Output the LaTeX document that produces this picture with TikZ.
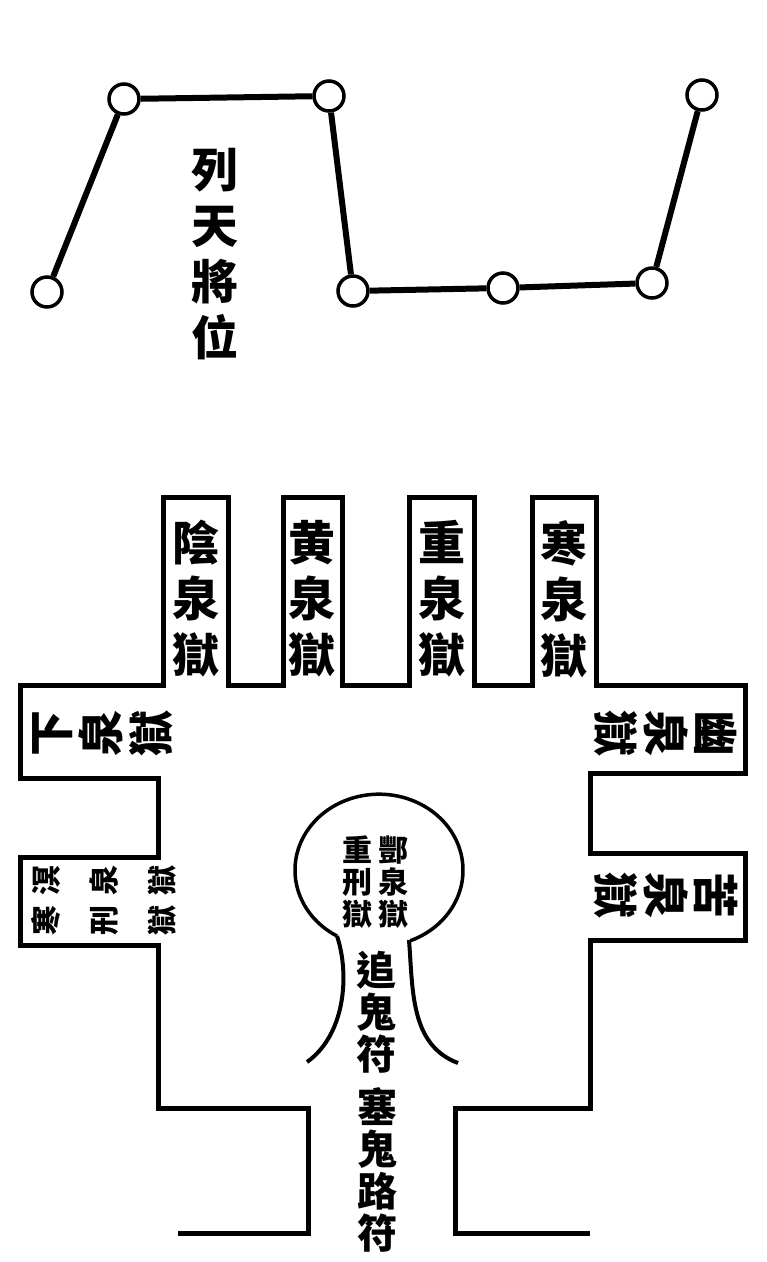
\documentclass[tikz,border=0pt]{standalone}
\usepackage{fontspec}
\newfontfamily\cjk{Noto Sans CJK TC}
\begin{document}
\begin{tikzpicture}[x=1pt, y=-1pt,
	star/.style={circle, draw, line width=3.5pt, minimum size=30pt, inner sep=0pt},
	link/.style={line width=6pt},
	wall/.style={line width=5pt, line join=miter},
	tabtext/.style={align=center, inner sep=0pt, font=\cjk\bfseries\fontsize{47}{56}\selectfont},
	sidetext/.style={align=center, inner sep=0pt, font=\cjk\bfseries\fontsize{46}{50}\selectfont},
	lowtext/.style={align=center, inner sep=0pt, font=\cjk\bfseries\fontsize{30}{58}\selectfont},
	bulbtext/.style={align=center, inner sep=0pt, font=\cjk\bfseries\fontsize{30}{32}\selectfont},
	futext/.style={align=center, inner sep=0pt, font=\cjk\bfseries\fontsize{40}{42}\selectfont}]
	\fill[white] (0,0) rectangle (767,1262);
	\useasboundingbox (0,0) rectangle (767,1262);
	% stars
	\node[star] (s1) at (47,292) {};
	\node[star] (s2) at (124,99) {};
	\node[star] (s3) at (329,96) {};
	\node[star] (s4) at (353,291) {};
	\node[star] (s5) at (503,288) {};
	\node[star] (s6) at (652,283) {};
	\node[star] (s7) at (702,95) {};
	\draw[link] (s1) -- (s2) -- (s3) -- (s4) -- (s5) -- (s6) -- (s7);
	\node[tabtext] (title) at (215,254) {列\\天\\將\\位};
	% hells
	\draw[wall] (178,1233) -- (308,1233) -- (308,1108) -- (158,1108) -- (158,945) -- (20,945)
		-- (20,857) -- (158,857) -- (158,778) -- (20,778) -- (20,685) -- (163,685)
		-- (163,497) -- (228,497) -- (228,685) -- (283,685) -- (283,497) -- (342,497)
		-- (342,685) -- (409,685) -- (409,497) -- (474,497) -- (474,685) -- (532,685)
		-- (532,497) -- (596,497) -- (596,685) -- (745,685) -- (745,773) -- (590,773)
		-- (590,853) -- (745,853) -- (745,940) -- (590,940) -- (590,1108) -- (455,1108)
		-- (455,1233) -- (590,1233);
	\foreach \x/\n/\t in {196/yin/陰, 312/huang/黄, 442/zhong/重, 564/han/寒}
		\node[tabtext] (\n) at (\x,599) {\t\\泉\\獄};
	\node[sidetext, rotate=90] (xia) at (103,733) {下\\泉\\獄};
	\node[sidetext, rotate=-90] (you) at (665,733) {幽\\泉\\獄};
	\node[sidetext, rotate=-90] (ku) at (666,895) {苦\\泉\\獄};
	\node[lowtext, rotate=90] (ming) at (104,880) {溟\\泉\\獄};
	\node[lowtext, rotate=90] (hanxing) at (104,920) {寒\\刑\\獄};
	% bulb
	\draw[line width=3.5pt] (337,936) arc[start angle=120, end angle=428, x radius=84, y radius=76];
	\draw[line width=4pt] (337,936) .. controls (350,975) and (345,1035) .. (307,1062);
	\draw[line width=4pt] (409,940) .. controls (413,990) and (410,1045) .. (458,1063);
	\node[bulbtext] (feng) at (393,882) {酆\\泉\\獄};
	\node[bulbtext] (zhongxing) at (357,882) {重\\刑\\獄};
	\node[futext] (zhui) at (376,1012) {追\\鬼\\符};
	\node[futext] (sai) at (377,1170) {塞\\鬼\\路\\符};
\end{tikzpicture}
\end{document}
